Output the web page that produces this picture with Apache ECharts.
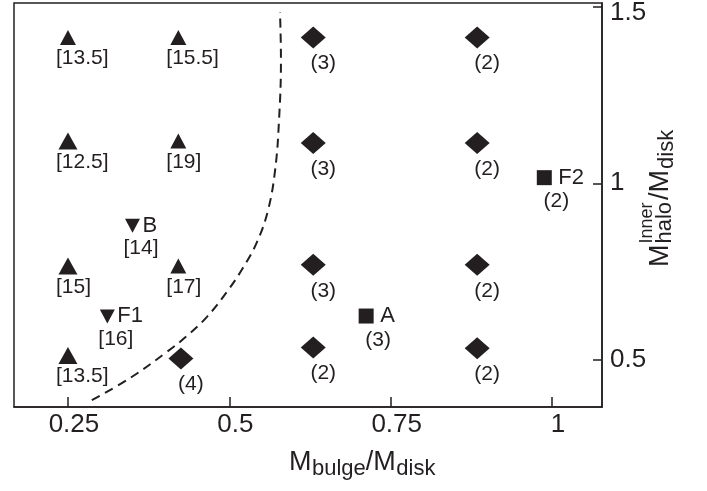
<!DOCTYPE html>
<html><head><meta charset="utf-8">
<script src="https://cdn.jsdelivr.net/npm/echarts@6/dist/echarts.min.js"></script>
<style>html,body{margin:0;padding:0;background:#fff}#c{width:707px;height:491px}</style>
</head><body><div id="c"></div>
<script>
// ---- data ----
const xTicks = [0.25, 0.5, 0.75, 1];
const xTickLabels = ['0.25', '0.5', '0.75', '1'];
const yTicks = [0.5, 1, 1.5];
const yTickLabels = ['0.5', '1', '1.5'];

// [x, y, label]
const upTriLarge = [[0.25, 1.12, '[12.5]'], [0.25, 0.766, '[15]'], [0.25, 0.512, '[13.5]']];
const upTriSmall = [[0.25, 1.413, '[13.5]'], [0.421, 1.413, '[15.5]'], [0.421, 1.12, '[19]'], [0.421, 0.766, '[17]']];
const diamonds = [
  [0.630, 1.413, '(3)'], [0.630, 1.114, '(3)'], [0.630, 0.769, '(3)'], [0.630, 0.535, '(2)'],
  [0.884, 1.413, '(2)'], [0.884, 1.114, '(2)'], [0.884, 0.769, '(2)'], [0.884, 0.533, '(2)'],
  [0.425, 0.504, '(4)']
];
// [x, y, name, label]
const downTri = [[0.350, 0.880, 'B', '[14]'], [0.311, 0.623, 'F1', '[16]']];
const squares = [[0.988, 1.016, 'F2', '(2)'], [0.712, 0.624, 'A', '(3)']];
// dashed boundary curve
const boundary = [
  [0.287, 0.386], [0.346, 0.448], [0.403, 0.522], [0.434, 0.567], [0.465, 0.621],
  [0.496, 0.692], [0.521, 0.760], [0.543, 0.834], [0.560, 0.924], [0.571, 1.038],
  [0.577, 1.179], [0.580, 1.349], [0.5785, 1.485]
];

// ---- chart ----
const INK = '#231f20';
const FONT = '"Liberation Sans", Arial, Helvetica, sans-serif';
const ctx = document.createElement('canvas').getContext('2d');
function tw(t, size) { ctx.font = size + 'px ' + FONT; return ctx.measureText(t).width; }
function piece(text, x, baseline, size) {
  return { type: 'text', x: x, y: baseline - 0.3465 * size, silent: true,
    style: { text: text, fill: INK, font: size + 'px ' + FONT, align: 'left', verticalAlign: 'middle',
      textAlign: 'left', textVerticalAlign: 'middle' } };
}
const MAIN = 27, SUB = 22, SUP = 18;
// x title: M_bulge / M_disk
const xt = [];
(function () {
  let x = 0;
  xt.push(piece('M', x, 0, MAIN)); x += tw('M', MAIN) + 0.5;
  xt.push(piece('bulge', x, 5, SUB)); x += tw('bulge', SUB);
  xt.push(piece('/M', x, 0, MAIN)); x += tw('/M', MAIN) + 0.5;
  xt.push(piece('disk', x, 5, SUB));
})();
// y title: M^Inner_halo / M_disk (rotated)
const yt = [];
(function () {
  let x = 0;
  yt.push(piece('M', x, 0, MAIN)); x += tw('M', MAIN) + 1;
  yt.push(piece('Inner', x, -17, SUP));
  yt.push(piece('halo', x, 3, SUB)); x += Math.max(tw('halo', SUB), tw('Inner', SUP)) + 2;
  yt.push(piece('/M', x, 0, MAIN)); x += tw('/M', MAIN) + 1;
  yt.push(piece('disk', x, 5, SUB));
})();

const chart = echarts.init(document.getElementById('c'), null, { renderer: 'canvas' });
const labelBase = { show: true, color: INK, fontFamily: FONT, position: 'inside' };
const mark = { color: INK, opacity: 1 };
const hidden = { color: 'rgba(0,0,0,0)', opacity: 1 };
chart.setOption({
  animation: false,
  backgroundColor: '#fff',
  grid: { left: 14, right: 105, top: 3, bottom: 84, show: true, borderColor: INK, borderWidth: 1.5,
    containLabel: false, outerBoundsMode: 'none' },
  xAxis: {
    type: 'value', min: 0.1664, max: 1.0774, position: 'bottom',
    axisLine: { show: true, lineStyle: { color: INK, width: 1.5 } },
    axisTick: { show: true, inside: true, length: 10, customValues: xTicks, lineStyle: { color: INK, width: 1.5 } },
    axisLabel: { customValues: xTicks, color: INK, fontFamily: FONT, fontSize: 26, margin: 5, padding: [0, 0, 0, 12],
      formatter: v => { const i = xTicks.findIndex(t => Math.abs(t - v) < 1e-9); return i >= 0 ? xTickLabels[i] : ''; } },
    splitLine: { show: false }
  },
  yAxis: {
    type: 'value', min: 0.3663, max: 1.5108, position: 'right',
    axisLine: { show: true, lineStyle: { color: INK, width: 1.5 } },
    axisTick: { show: true, inside: true, length: 9, customValues: yTicks, lineStyle: { color: INK, width: 1.5 } },
    axisLabel: { customValues: yTicks, color: INK, fontFamily: FONT, fontSize: 26, margin: 8,
      rich: { top: { color: INK, fontFamily: FONT, fontSize: 26, padding: [13, 0, 0, 0] } },
      formatter: v => {
        const i = yTicks.findIndex(t => Math.abs(t - v) < 1e-9);
        if (i < 0) return '';
        return i === yTicks.length - 1 ? '{top|' + yTickLabels[i] + '}' : yTickLabels[i];
      } },
    splitLine: { show: false }
  },
  graphic: [
    { type: 'group', x: 289, y: 472, children: xt },
    { type: 'group', x: 670, y: 267, rotation: Math.PI / 2, children: yt }
  ],
  series: [
    { type: 'line', data: boundary, smooth: 0.4, symbol: 'none', silent: true, z: 1,
      lineStyle: { color: INK, width: 2, type: [9, 6] } },
    { type: 'scatter', data: upTriLarge, symbol: 'triangle', symbolSize: [19, 17], itemStyle: mark,
      label: Object.assign({}, labelBase, { align: 'left', offset: [-12, 21], fontSize: 21, formatter: p => p.data[2] }) },
    { type: 'scatter', data: upTriSmall, symbol: 'triangle', symbolSize: [16, 15], itemStyle: mark,
      label: Object.assign({}, labelBase, { align: 'left', offset: [-12, 21], fontSize: 21, formatter: p => p.data[2] }) },
    { type: 'scatter', data: diamonds, symbol: 'diamond', symbolSize: [25, 22], itemStyle: mark,
      label: Object.assign({}, labelBase, { align: 'center', offset: [10, 26], fontSize: 21, formatter: p => p.data[2] }) },
    { type: 'scatter', data: downTri, symbol: 'triangle', symbolRotate: 180, symbolSize: [15, 14], itemStyle: mark,
      label: Object.assign({}, labelBase, { align: 'left', offset: [-9, 23], fontSize: 21, formatter: p => p.data[3] }) },
    { type: 'scatter', data: downTri, symbol: 'circle', symbolSize: 1, itemStyle: hidden,
      label: Object.assign({}, labelBase, { align: 'left', offset: [10, 0], fontSize: 22, formatter: p => p.data[2] }) },
    { type: 'scatter', data: squares, symbol: 'rect', symbolSize: [15, 15], itemStyle: mark,
      label: Object.assign({}, labelBase, { align: 'center', offset: [12, 24], fontSize: 21, formatter: p => p.data[3] }) },
    { type: 'scatter', data: squares, symbol: 'circle', symbolSize: 1, itemStyle: hidden,
      label: Object.assign({}, labelBase, { align: 'left', offset: [14, 0], fontSize: 22, formatter: p => p.data[2] }) }
  ]
});
</script>
</body></html>
